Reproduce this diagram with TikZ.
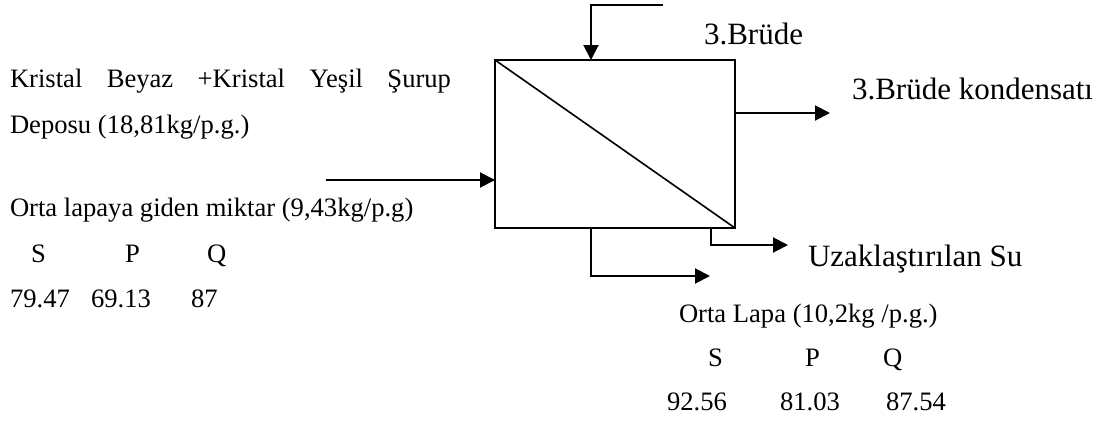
\documentclass[tikz,border=0pt]{standalone}
\usepackage{fontspec}
\setmainfont{Liberation Serif}
\usepackage{tikz}
\usetikzlibrary{arrows.meta,positioning,calc}

\begin{document}
\begin{tikzpicture}[x=1pt,y=-1pt,
  every node/.style={inner sep=0pt,outer sep=0pt,anchor=base west,font=\fontsize{26.6}{30}\selectfont},
  big/.style={font=\fontsize{31}{36}\selectfont},
  flow/.style={line width=2pt,-{Triangle[length=15pt,width=15pt]}}]
\useasboundingbox (0,0) rectangle (1110,421);
% evaporator
\node[draw,line width=2pt,anchor=center,minimum width=240pt,minimum height=168pt] (evap) at (615,144) {};
\draw[line width=1.6pt] (evap.north west)--(evap.south east);
% stream ends
\coordinate (topin) at (663,5);
\coordinate (topbend) at (591,5);
\coordinate (feed) at (326,180);
\coordinate (cond) at (830,113);
\coordinate (lapa) at (710,276);
\coordinate (wbend) at (711,245);
\coordinate (water) at (788,245);
\draw[flow] (topin)--(topbend)--(topbend |- evap.north);
\draw[flow] (feed)--(feed -| evap.west);
\draw[flow] (cond -| evap.east)--(cond);
\draw[flow] (topbend |- evap.south)--(topbend |- lapa)--(lapa);
\draw[flow] (wbend |- evap.south)--(wbend)--(water);
% labels right
\node[big] (brude) at (704,44) {3.Brüde};
\node[big] (kond) at (852,99) {3.Brüde kondensatı};
\node[big] (su) at (808,266) {Uzaklaştırılan Su};
\node (olapa) at (679,322) {Orta Lapa (10,2kg /p.g.)};
\node (rs) at (708,366) {S};
\node (rp) at (805,366) {P};
\node (rq) at (883,366) {Q};
\node (rsv) at (667,410) {92.56};
\node (rpv) at (780,410) {81.03};
\node (rqv) at (886,410) {87.54};
% labels left
\node (depo1) at (10,87) {\hbox to 441pt{Kristal\hfill Beyaz\hfill +Kristal\hfill Yeşil\hfill Şurup}};
\node (depo2) at (10,133) {Deposu (18,81kg/p.g.)};
\node (giden) at (10,216) {Orta lapaya giden miktar (9,43kg/p.g)};
\node (ls) at (31,262) {S};
\node (lp) at (125,262) {P};
\node (lq) at (207,262) {Q};
\node (lsv) at (10,307) {79.47};
\node (lpv) at (91,307) {69.13};
\node (lqv) at (191,307) {87};
\end{tikzpicture}
\end{document}
